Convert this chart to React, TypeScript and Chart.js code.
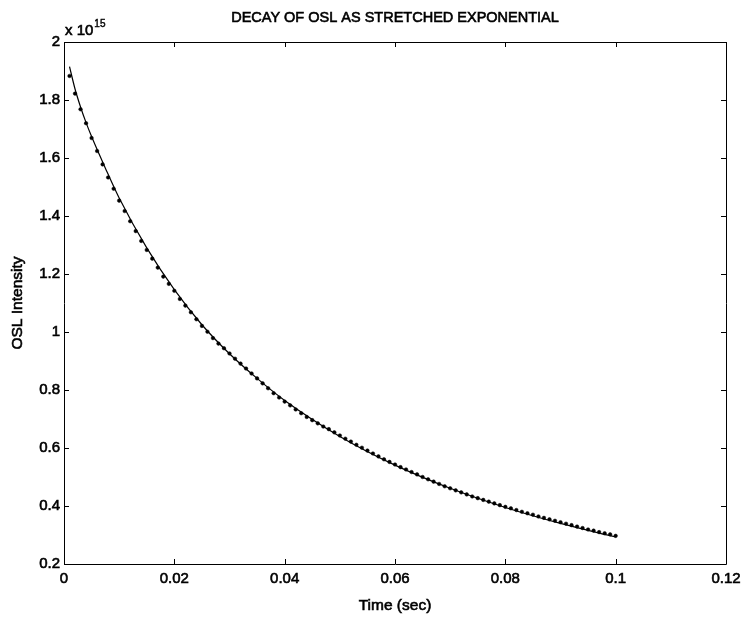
import React, { useEffect, useRef } from "react";
import { Chart, registerables } from "chart.js";

Chart.register(...registerables);

const TITLE = "DECAY OF OSL AS STRETCHED EXPONENTIAL";
const X_LABEL = "Time (sec)";
const Y_LABEL = "OSL Intensity";

// measured data (time in s, intensity in units of 1e15)
const timeSec = [
  0.001, 0.002, 0.003, 0.004, 0.005, 0.006, 0.007, 0.008, 0.009, 0.01,
  0.011, 0.012, 0.013, 0.014, 0.015, 0.016, 0.017, 0.018, 0.019, 0.02,
  0.021, 0.022, 0.023, 0.024, 0.025, 0.026, 0.027, 0.028, 0.029, 0.03,
  0.031, 0.032, 0.033, 0.034, 0.035, 0.036, 0.037, 0.038, 0.039, 0.04,
  0.041, 0.042, 0.043, 0.044, 0.045, 0.046, 0.047, 0.048, 0.049, 0.05,
  0.051, 0.052, 0.053, 0.054, 0.055, 0.056, 0.057, 0.058, 0.059, 0.06,
  0.061, 0.062, 0.063, 0.064, 0.065, 0.066, 0.067, 0.068, 0.069, 0.07,
  0.071, 0.072, 0.073, 0.074, 0.075, 0.076, 0.077, 0.078, 0.079, 0.08,
  0.081, 0.082, 0.083, 0.084, 0.085, 0.086, 0.087, 0.088, 0.089, 0.09,
  0.091, 0.092, 0.093, 0.094, 0.095, 0.096, 0.097, 0.098, 0.099, 0.1,
];

const oslData = [
  1.883, 1.822, 1.768, 1.72, 1.669, 1.624, 1.578, 1.533, 1.494, 1.453,
  1.417, 1.382, 1.348, 1.314, 1.283, 1.253, 1.222, 1.191, 1.166, 1.142,
  1.114, 1.091, 1.068, 1.044, 1.021, 1.001, 0.979, 0.96, 0.944, 0.926,
  0.908, 0.891, 0.874, 0.857, 0.84, 0.823, 0.806, 0.789, 0.774, 0.76,
  0.747, 0.733, 0.72, 0.707, 0.696, 0.685, 0.674, 0.665, 0.654, 0.643,
  0.632, 0.622, 0.611, 0.601, 0.591, 0.581, 0.571, 0.561, 0.552, 0.543,
  0.534, 0.526, 0.517, 0.509, 0.5, 0.492, 0.484, 0.476, 0.468, 0.461,
  0.454, 0.447, 0.44, 0.433, 0.427, 0.421, 0.415, 0.409, 0.403, 0.397,
  0.392, 0.386, 0.38, 0.375, 0.37, 0.364, 0.359, 0.354, 0.349, 0.344,
  0.339, 0.334, 0.329, 0.324, 0.319, 0.315, 0.31, 0.306, 0.302, 0.297,
];

// stretched-exponential fit curve
const fitTime = [
  0.001, 0.002, 0.003, 0.004, 0.005, 0.0075, 0.01, 0.015, 0.02, 0.025,
  0.03, 0.035, 0.04, 0.05, 0.06, 0.07, 0.08, 0.09, 0.1,
];
const fitValues = [
  1.915, 1.838, 1.776, 1.722, 1.674, 1.565, 1.462, 1.29, 1.146, 1.025,
  0.925, 0.84, 0.764, 0.64, 0.541, 0.461, 0.395, 0.34, 0.293,
];

const xTicks = [0, 0.02, 0.04, 0.06, 0.08, 0.1, 0.12];
const yTicks = [0.2, 0.4, 0.6, 0.8, 1, 1.2, 1.4, 1.6, 1.8, 2];
const EXPONENT_BASE = "x 10";
const EXPONENT = "15";

const FONT = "'Liberation Sans', Arial, Helvetica, sans-serif";
const STROKE = 0.6;

const fmt = (v: number) => String(parseFloat(Number(v).toFixed(4)));

const heavyText = (ctx: any, text: string, x: number, y: number) => {
  ctx.fillText(text, x, y);
  ctx.strokeText(text, x, y);
};

const matlabAxes = {
  id: "matlabAxes",
  afterDraw(chart: any) {
    const { ctx, chartArea } = chart;
    const { left, right, top, bottom } = chartArea;
    const xs = chart.scales.x;
    const ys = chart.scales.y;
    ctx.save();
    ctx.strokeStyle = "#000";
    ctx.lineWidth = 1;
    ctx.beginPath();
    ctx.rect(Math.round(left) + 0.5, Math.round(top) + 0.5, Math.round(right - left), Math.round(bottom - top));
    ctx.stroke();
    const tl = 5;
    ctx.beginPath();
    xTicks.forEach((v) => {
      const px = Math.round(xs.getPixelForValue(v)) + 0.5;
      ctx.moveTo(px, bottom);
      ctx.lineTo(px, bottom - tl);
      ctx.moveTo(px, top);
      ctx.lineTo(px, top + tl);
    });
    yTicks.forEach((v) => {
      const py = Math.round(ys.getPixelForValue(v)) + 0.5;
      ctx.moveTo(left, py);
      ctx.lineTo(left + tl, py);
      ctx.moveTo(right, py);
      ctx.lineTo(right - tl, py);
    });
    ctx.stroke();

    ctx.fillStyle = "#000";
    ctx.lineWidth = STROKE;
    // title
    ctx.font = `14.5px ${FONT}`;
    ctx.textAlign = "center";
    ctx.textBaseline = "middle";
    heavyText(ctx, TITLE, (left + right) / 2, 18);
    // x label
    ctx.font = `15.5px ${FONT}`;
    heavyText(ctx, X_LABEL, (left + right) / 2, 606);
    // y label
    ctx.save();
    ctx.translate(18, (top + bottom) / 2);
    ctx.rotate(-Math.PI / 2);
    heavyText(ctx, Y_LABEL, 0, 0);
    ctx.restore();
    // exponent
    ctx.textAlign = "left";
    ctx.font = `15px ${FONT}`;
    heavyText(ctx, EXPONENT_BASE, left + 1, 31);
    const w = ctx.measureText(EXPONENT_BASE).width;
    ctx.font = `10px ${FONT}`;
    ctx.lineWidth = 0.4;
    heavyText(ctx, EXPONENT, left + 1 + w + 1, 24);
    ctx.restore();
  },
};

export default function App() {
  const ref = useRef<HTMLCanvasElement | null>(null);
  useEffect(() => {
    if (!ref.current) return;
    const chart = new Chart(ref.current, {
      type: "scatter",
      data: {
        datasets: [
          {
            label: "data",
            data: timeSec.map((t, i) => ({ x: t, y: oslData[i] })),
            showLine: false,
            pointRadius: 1.8,
            pointBackgroundColor: "#000",
            pointBorderColor: "#000",
            pointBorderWidth: 0.5,
          },
          {
            label: "fit",
            data: fitTime.map((t, i) => ({ x: t, y: fitValues[i] })),
            showLine: true,
            pointRadius: 0,
            borderColor: "#000",
            borderWidth: 1.2,
            cubicInterpolationMode: "monotone",
          },
        ],
      },
      options: {
        animation: false,
        responsive: false,
        maintainAspectRatio: false,
        layout: { padding: { top: 42, right: 17, left: 0, bottom: 0 } },
        plugins: {
          legend: { display: false },
          title: { display: false },
          tooltip: { enabled: false },
        },
        scales: {
          x: {
            type: "linear",
            min: 0,
            max: 0.12,
            afterBuildTicks: (s: any) => {
              s.ticks = xTicks.map((v) => ({ value: v }));
            },
            afterFit: (s: any) => {
              s.height = 53;
              s.paddingLeft = 0;
              s.paddingRight = 0;
            },
            grid: { display: false, drawTicks: false },
            border: { display: false },
            ticks: {
              padding: 6,
              color: "#000",
              textStrokeColor: "#000",
              textStrokeWidth: STROKE,
              font: { family: FONT, size: 15 },
              maxRotation: 0,
              callback: (v: any) => fmt(v),
            },
          },
          y: {
            type: "linear",
            min: 0.2,
            max: 2,
            afterBuildTicks: (s: any) => {
              s.ticks = yTicks.map((v) => ({ value: v }));
            },
            afterFit: (s: any) => {
              s.width = 64;
              s.paddingTop = 0;
              s.paddingBottom = 0;
            },
            grid: { display: false, drawTicks: false },
            border: { display: false },
            ticks: {
              padding: 4,
              color: "#000",
              textStrokeColor: "#000",
              textStrokeWidth: STROKE,
              font: { family: FONT, size: 15 },
              callback: (v: any) => fmt(v),
            },
          },
        },
      },
      plugins: [matlabAxes],
    } as any);
    return () => chart.destroy();
  }, []);
  return (
    <div style={{ position: "fixed", left: 0, top: 0, width: 743, height: 617, background: "#fff" }}>
      <canvas ref={ref} width={743} height={617} style={{ width: 743, height: 617 }} />
    </div>
  );
}
